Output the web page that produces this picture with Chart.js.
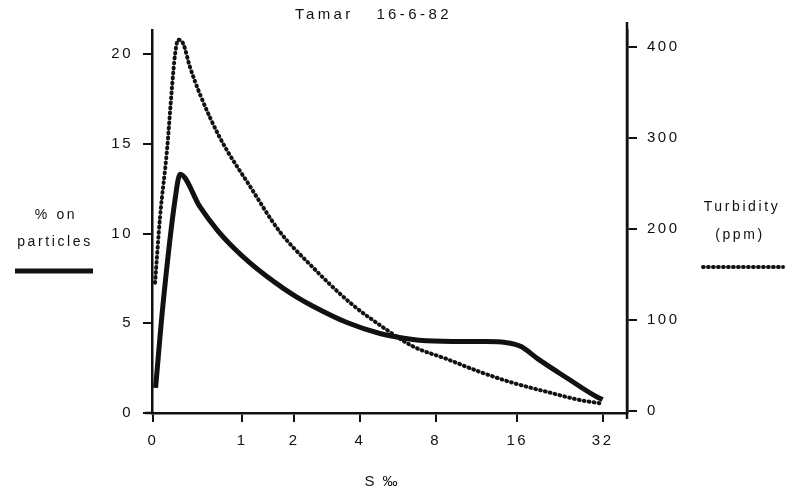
<!DOCTYPE html>
<html>
<head>
<meta charset="utf-8">
<script src="https://cdn.jsdelivr.net/npm/chart.js@4/dist/chart.umd.min.js"></script>
<style>
  html, body { margin: 0; padding: 0; background: #fff; }
  #c { display: block; }
</style>
</head>
<body>
<canvas id="c" width="787" height="489"></canvas>
<script>
// salinity (S per mille) and % of metal on particles
var partSalinity = [0.02, 0.08, 0.187, 0.234, 0.441, 0.645, 0.863, 1.125, 1.425, 1.748, 2.06, 2.47, 3.52, 4.84, 6.55, 8.5, 12, 14.5, 16.5, 19, 24, 30.6, 32];
var partPercent  = [1.4, 6.0, 11.9, 13.3, 11.48, 10.2, 9.23, 8.36, 7.6, 6.96, 6.46, 5.95, 5.04, 4.43, 4.1, 4.0, 3.98, 3.93, 3.7, 3.0, 1.95, 0.89, 0.75];

// salinity and turbidity (ppm)
var turbSalinity = [0.016, 0.056, 0.115, 0.159, 0.187, 0.215, 0.263, 0.333, 0.441, 0.684, 1.125, 1.68, 2.39, 3.63, 4.98, 6.55, 8.84, 11.7, 15.4, 20.4, 26.7, 30.6, 32];
var turbPpm      = [141, 213, 287, 356, 392, 408, 404, 378, 348, 300, 247, 197, 161, 119, 92, 71, 57, 43, 31, 21, 12, 9, 8];

var xTicks = [0, 1, 2, 4, 8, 16, 32];
var leftTicks = [0, 5, 10, 15, 20];
var rightTicks = [0, 100, 200, 300, 400];

// the salinity axis is stretched like ln(1 + S)
function sx(s) { return Math.log1p(s); }

function points(xs, ys) {
	return xs.map(function(s, i) { return { x: sx(s), y: ys[i] }; });
}

var FONT = '"Liberation Sans", Arial, sans-serif';

var textPlugin = {
	id: 'texts',
	beforeDraw: function(chart) {
		chart.ctx.letterSpacing = '2.5px';
	},
	afterDraw: function(chart) {
		var ctx = chart.ctx;
		var a = chart.chartArea;
		ctx.save();

		// the axis lines run a little past the plot box
		ctx.strokeStyle = '#111';
		ctx.lineWidth = 2.5;
		ctx.beginPath();
		ctx.moveTo(a.right, a.top - 8);
		ctx.lineTo(a.right, a.bottom + 6);
		ctx.moveTo(a.left - 7, a.bottom);
		ctx.lineTo(a.left, a.bottom);
		ctx.stroke();

		ctx.fillStyle = '#111';
		ctx.letterSpacing = '3.4px';
		ctx.font = '15px ' + FONT;
		ctx.textBaseline = 'middle';
		ctx.textAlign = 'left';
		ctx.fillText('Tamar   16-6-82', 295, 15);

		ctx.font = '14px ' + FONT;
		ctx.letterSpacing = '2.6px';
		ctx.textAlign = 'center';
		ctx.fillText('% on', 56, 215);
		ctx.fillText('particles', 55, 242);
		ctx.fillText('Turbidity', 742, 207);
		ctx.fillText('(ppm)', 740, 235);

		ctx.font = '15px ' + FONT;
		ctx.letterSpacing = '2px';
		ctx.fillText('S ‰', 382, 482);

		// legend keys
		ctx.lineWidth = 5;
		ctx.beginPath();
		ctx.moveTo(15, 271);
		ctx.lineTo(93, 271);
		ctx.stroke();

		ctx.lineWidth = 4;
		ctx.lineCap = 'round';
		ctx.setLineDash([0.8, 4.2]);
		ctx.beginPath();
		ctx.moveTo(703, 267);
		ctx.lineTo(783, 267);
		ctx.stroke();
		ctx.restore();
	}
};

var tickFont = { family: FONT, size: 15 };

new Chart(document.getElementById('c'), {
	type: 'line',
	data: {
		datasets: [{
			label: '% on particles',
			data: points(partSalinity, partPercent),
			yAxisID: 'y',
			borderColor: '#111',
			borderWidth: 5,
			pointRadius: 0,
			cubicInterpolationMode: 'monotone',
			borderCapStyle: 'butt',
			borderJoinStyle: 'round'
		}, {
			label: 'Turbidity (ppm)',
			data: points(turbSalinity, turbPpm),
			yAxisID: 'y2',
			borderColor: '#111',
			borderWidth: 4,
			borderDash: [0.8, 4.2],
			borderCapStyle: 'round',
			pointRadius: 0,
			cubicInterpolationMode: 'monotone'
		}]
	},
	options: {
		responsive: false,
		animation: false,
		devicePixelRatio: 1,
		layout: { padding: { top: 30, left: 0, right: 0, bottom: 0 } },
		plugins: { legend: { display: false }, tooltip: { enabled: false } },
		scales: {
			x: {
				type: 'linear',
				position: 'bottom',
				min: -0.008,
				max: 3.686,
				afterFit: function(s) { s.height = 76; },
				afterBuildTicks: function(s) { s.ticks = xTicks.map(function(v) { return { value: sx(v) }; }); },
				ticks: {
					color: '#111', font: tickFont, padding: 10, maxRotation: 0, autoSkip: false,
					callback: function(v, i) { return String(xTicks[i]); }
				},
				grid: { drawOnChartArea: false, drawTicks: true, tickLength: 9, color: '#111', lineWidth: 2 },
				border: { display: true, color: '#111', width: 2.5 }
			},
			y: {
				type: 'linear',
				position: 'left',
				min: 0,
				max: 21.34,
				afterFit: function(s) { s.width = 152; },
				afterBuildTicks: function(s) { s.ticks = leftTicks.map(function(v) { return { value: v }; }); },
				ticks: { color: '#111', font: tickFont, padding: 10 },
				grid: { drawOnChartArea: false, drawTicks: true, tickLength: 9, color: '#111', lineWidth: 2 },
				border: { display: true, color: '#111', width: 2.5 }
			},
			y2: {
				type: 'linear',
				position: 'right',
				min: -2.2,
				max: 418.7,
				afterFit: function(s) { s.width = 160; },
				afterBuildTicks: function(s) { s.ticks = rightTicks.map(function(v) { return { value: v }; }); },
				ticks: { color: '#111', font: tickFont, padding: 10 },
				grid: { drawOnChartArea: false, drawTicks: true, tickLength: 10, color: '#111', lineWidth: 2 },
				border: { display: true, color: '#111', width: 2.5 }
			}
		}
	},
	plugins: [textPlugin]
});
</script>
</body>
</html>
